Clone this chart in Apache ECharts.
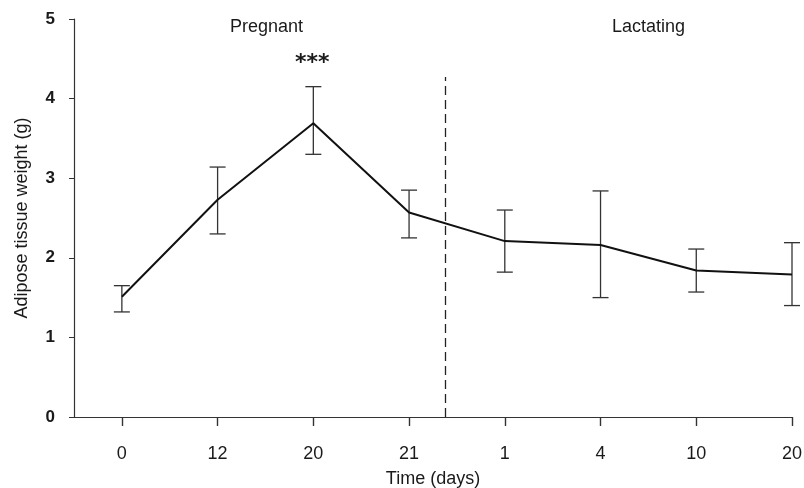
<!DOCTYPE html>
<html>
<head>
<meta charset="utf-8">
<script src="https://cdn.jsdelivr.net/npm/echarts@6/dist/echarts.min.js"></script>
<style>
html,body{margin:0;padding:0;background:#fff;}
#main{width:804px;height:488px;}
</style>
</head>
<body>
<div id="main"></div>
<script>
// Data
var timeLabels = ['0', '12', '20', '21', '1', '4', '10', '20'];
var meanWeight = [1.51, 2.73, 3.69, 2.57, 2.21, 2.16, 1.84, 1.79];
var upperErr   = [1.65, 3.14, 4.15, 2.85, 2.60, 2.84, 2.11, 2.19];
var lowerErr   = [1.32, 2.30, 3.30, 2.25, 1.82, 1.50, 1.57, 1.40];
var yTicks = [0, 1, 2, 3, 4, 5];
var dividerX = 3.375;
var dividerTop = 4.27;
var phaseLabels = ['Pregnant', 'Lactating'];
var signif = '***';

var tickIdx = timeLabels.map(function (_, i) { return i; });
var lineData = meanWeight.map(function (v, i) { return [i, v]; });
var errData = meanWeight.map(function (v, i) { return [i, lowerErr[i], upperErr[i]]; });

var font = '"Liberation Sans", Arial, Helvetica, sans-serif';
var chart = echarts.init(document.getElementById('main'), null, { renderer: 'canvas' });

chart.setOption({
  animation: false,
  backgroundColor: '#ffffff',
  grid: { left: 74, right: 12, top: 19, bottom: 71, containLabel: false, outerBoundsMode: 'none' },
  xAxis: {
    type: 'value',
    min: -0.5,
    max: 7,
    name: 'Time (days)',
    nameLocation: 'middle',
    nameGap: 53,
    nameTextStyle: { fontFamily: font, fontSize: 18, color: '#1a1a1a' },
    axisLine: { show: true, onZero: false, lineStyle: { color: '#333', width: 1.2 } },
    axisTick: { show: true, inside: false, length: 9, customValues: tickIdx, lineStyle: { color: '#333', width: 1.4 } },
    axisLabel: {
      customValues: tickIdx,
      margin: 28,
      fontFamily: font, fontSize: 18, color: '#1a1a1a',
      formatter: function (v) { return timeLabels[Math.round(v)]; }
    },
    splitLine: { show: false }
  },
  yAxis: {
    type: 'value',
    min: 0,
    max: 5,
    interval: 1,
    name: 'Adipose tissue weight (g)',
    nameLocation: 'middle',
    nameGap: 43,
    nameTextStyle: { fontFamily: font, fontSize: 18, color: '#1a1a1a' },
    axisLine: { show: true, onZero: false, lineStyle: { color: '#333', width: 1.2 } },
    axisTick: { show: true, inside: false, length: 5, lineStyle: { color: '#333', width: 1 } },
    axisLabel: {
      margin: 19,
      fontFamily: font, fontSize: 17, fontWeight: 'bold', color: '#1a1a1a',
      formatter: function (v) { return yTicks.indexOf(v) >= 0 ? String(v) : ''; }
    },
    splitLine: { show: false }
  },
  series: [
    {
      type: 'custom',
      name: 'error',
      data: errData,
      encode: { x: 0, y: [1, 2] },
      z: 3,
      renderItem: function (params, api) {
        var x = api.value(0);
        var top = api.coord([x, api.value(2)]);
        var bot = api.coord([x, api.value(1)]);
        var half = 8;
        var style = { stroke: '#333', lineWidth: 1.3 };
        return {
          type: 'group',
          children: [
            { type: 'line', shape: { x1: top[0], y1: top[1], x2: bot[0], y2: bot[1] }, style: style },
            { type: 'line', shape: { x1: top[0] - half, y1: top[1], x2: top[0] + half, y2: top[1] }, style: style },
            { type: 'line', shape: { x1: bot[0] - half, y1: bot[1], x2: bot[0] + half, y2: bot[1] }, style: style }
          ]
        };
      }
    },
    {
      type: 'line',
      name: 'mean',
      data: lineData,
      symbol: 'none',
      z: 4,
      lineStyle: { color: '#111', width: 2 },
      markLine: {
        silent: true,
        symbol: ['none', 'none'],
        label: { show: false },
        lineStyle: { type: [9, 5], color: '#222', width: 1.3 },
        data: [[{ coord: [dividerX, 0] }, { coord: [dividerX, dividerTop] }]]
      }
    }
  ],
  graphic: [
    { type: 'text', left: 230, top: 18, style: { text: phaseLabels[0], font: '18px ' + font, fill: '#1a1a1a' } },
    { type: 'text', left: 612, top: 18, style: { text: phaseLabels[1], font: '18px ' + font, fill: '#1a1a1a' } },
    { type: 'text', left: 295, top: 52, style: { text: signif, font: 'bold 22px "DejaVu Sans", sans-serif', fill: '#1a1a1a' } }
  ]
});
</script>
</body>
</html>
